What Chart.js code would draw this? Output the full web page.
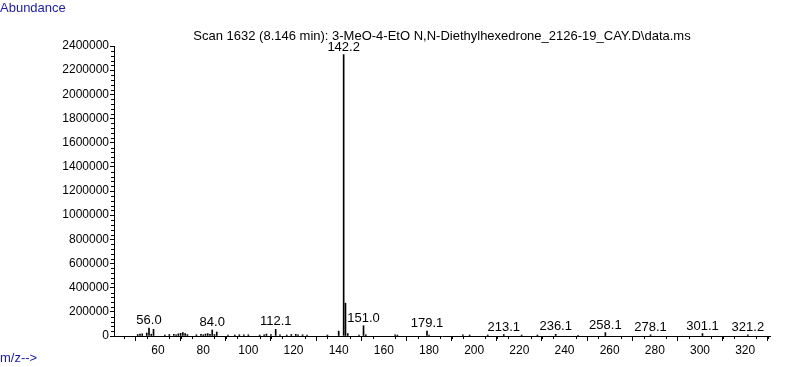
<!DOCTYPE html>
<html>
<head>
<meta charset="utf-8">
<script src="https://cdn.jsdelivr.net/npm/chart.js@4.4.1/dist/chart.umd.min.js"></script>
<style>
  html, body { margin: 0; padding: 0; background: #fff; }
  #chart { display: block; }
</style>
</head>
<body>
<canvas id="chart" width="787" height="367"></canvas>
<script>
const scanTitle = "Scan 1632 (8.146 min): 3-MeO-4-EtO N,N-Diethylhexedrone_2126-19_CAY.D\\data.ms";
const yAxisTitle = "Abundance";
const xAxisTitle = "m/z-->";

const mzValues = [51, 52, 53, 55, 56.0, 57, 58, 63, 65, 67, 68, 69, 70, 71, 72, 73, 77, 79, 80, 81, 82, 83, 84.0, 85, 86,
    91, 94, 96, 98, 100, 105, 107, 108, 110, 112.1, 114, 117, 119, 121, 122, 124, 126, 135, 140, 142.2, 143, 144,
    149, 151.0, 152, 165, 166, 179.1, 180, 195, 198, 206, 213.1, 221, 228, 236.1, 246, 258.1, 278.1, 301.1, 321.2];
const abundances = [12000, 15000, 18000, 25000, 65000, 15000, 55000, 8000, 12000, 14000, 10000, 18000, 22000, 28000, 20000, 12000, 10000, 14000, 10000, 16000, 20000, 14000, 50000, 12000, 33000,
    8000, 8000, 10000, 10000, 10000, 8000, 10000, 16000, 12000, 55000, 10000, 8000, 12000, 14000, 10000, 10000, 8000, 8000, 40000, 2330000, 272000, 20000,
    8000, 85000, 10000, 10000, 8000, 40000, 8000, 10000, 8000, 8000, 12000, 8000, 8000, 14000, 6000, 28000, 10000, 20000, 10000];
const labelledPeaks = [56.0, 84.0, 112.1, 142.2, 151.0, 179.1, 213.1, 236.1, 258.1, 278.1, 301.1, 321.2];

const xTickValues = [60, 80, 100, 120, 140, 160, 180, 200, 220, 240, 260, 280, 300, 320];
const yTickValues = [0, 200000, 400000, 600000, 800000, 1000000, 1200000, 1400000, 1600000, 1800000, 2000000, 2200000, 2400000];

const font = '"Liberation Sans", Arial, sans-serif';

const minorTicks = {
    id: 'minorTicks',
    afterDraw(chart) {
        const ctx = chart.ctx;
        const x = chart.scales.x, y = chart.scales.y;
        ctx.save();
        ctx.strokeStyle = '#000';
        ctx.lineWidth = 1;
        ctx.beginPath();
        for (let m = 45; m <= x.max; m += 5) {
            if (m % 20 === 0) continue;
            const px = Math.round(x.getPixelForValue(m)) + 0.5;
            ctx.moveTo(px, x.top);
            ctx.lineTo(px, x.top + 3);
        }
        for (let v = 40000; v < 2400000; v += 40000) {
            if (v % 200000 === 0) continue;
            const py = Math.round(y.getPixelForValue(v)) + 0.5;
            ctx.moveTo(y.right, py);
            ctx.lineTo(y.right - 3, py);
        }
        ctx.stroke();
        ctx.restore();
    }
};

const peakLabels = {
    id: 'peakLabels',
    afterDatasetsDraw(chart) {
        const ctx = chart.ctx;
        const x = chart.scales.x, y = chart.scales.y;
        ctx.save();
        ctx.font = '13px ' + font;
        ctx.fillStyle = '#000';
        ctx.textAlign = 'center';
        ctx.textBaseline = 'bottom';
        labelledPeaks.forEach(mz => {
            const i = mzValues.indexOf(mz);
            ctx.fillText(mz.toFixed(1), x.getPixelForValue(mz), y.getPixelForValue(abundances[i]) - 1);
        });
        ctx.restore();
    }
};

const headerText = {
    id: 'headerText',
    afterDraw(chart) {
        const ctx = chart.ctx;
        const area = chart.chartArea;
        ctx.save();
        ctx.font = '13px ' + font;
        ctx.textBaseline = 'middle';
        ctx.fillStyle = '#000';
        ctx.textAlign = 'center';
        ctx.fillText(scanTitle, (area.left + area.right) / 2, 36);
        ctx.textAlign = 'left';
        ctx.fillStyle = '#1c1ca0';
        ctx.fillText(yAxisTitle, 0, 8);
        ctx.fillText(xAxisTitle, 0, 358);
        ctx.restore();
    }
};

const ctx = document.getElementById('chart').getContext('2d');
new Chart(ctx, {
    type: 'bar',
    data: {
        datasets: [{
            data: mzValues.map((m, i) => ({ x: m, y: abundances[i] })),
            backgroundColor: '#000',
            borderWidth: 0,
            barThickness: 1
        }]
    },
    options: {
        responsive: false,
        animation: false,
        devicePixelRatio: 1,
        layout: { padding: { top: 46, right: 17, bottom: 0, left: 0 } },
        plugins: {
            legend: { display: false },
            tooltip: { enabled: false }
        },
        scales: {
            x: {
                type: 'linear',
                offset: false,
                min: 40.5,
                max: 331,
                afterBuildTicks: s => { s.ticks = xTickValues.map(v => ({ value: v })); },
                afterFit: s => { s.height = 31; },
                grid: { drawOnChartArea: false, drawTicks: true, tickLength: 5, color: '#000' },
                border: { color: '#000' },
                ticks: {
                    color: '#000',
                    font: { family: font, size: 12 },
                    padding: 2,
                    maxRotation: 0,
                    autoSkip: false,
                    callback: v => String(v)
                }
            },
            y: {
                min: 0,
                max: 2400000,
                afterBuildTicks: s => { s.ticks = yTickValues.map(v => ({ value: v })); },
                afterFit: s => { s.width = 114; },
                grid: { drawOnChartArea: false, drawTicks: true, tickLength: 4, color: '#000' },
                border: { color: '#000' },
                ticks: {
                    color: '#000',
                    font: { family: font, size: 12 },
                    padding: 1,
                    autoSkip: false,
                    callback: v => String(v)
                }
            }
        }
    },
    plugins: [minorTicks, peakLabels, headerText]
});
</script>
</body>
</html>
